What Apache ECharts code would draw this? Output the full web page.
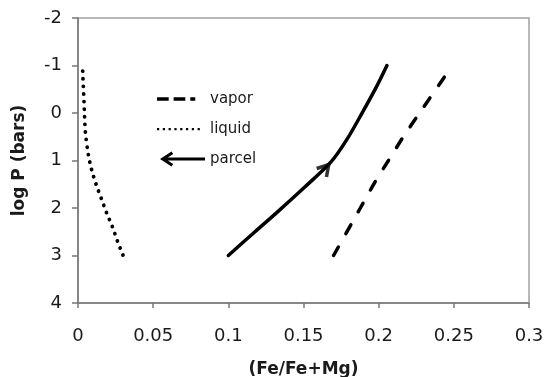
<!DOCTYPE html>
<html><head><meta charset="utf-8">
<script src="https://cdn.jsdelivr.net/npm/echarts@6/dist/echarts.min.js"></script>
<style>html,body{margin:0;padding:0;background:#fff}#c{width:547px;height:377px}</style>
</head><body><div id="c"></div>
<script>
// ---- data ----
const liquidX = [0.0031, 0.0040, 0.0049, 0.0069, 0.0091, 0.0120, 0.0155, 0.0191, 0.0228, 0.0264, 0.0300];
const liquidY = [-0.88, -0.24, 0.39, 0.88, 1.20, 1.50, 1.80, 2.11, 2.39, 2.71, 3.00];
const vaporX = [0.170, 0.1878, 0.1976, 0.2065, 0.2164, 0.2272, 0.249];
const vaporY = [3.00, 2.00, 1.45, 1.00, 0.50, 0.00, -1.00];
const parcelX = [0.100, 0.1170, 0.1335, 0.1505, 0.1683, 0.1790, 0.1895, 0.1985, 0.2055];
const parcelY = [3.00, 2.52, 2.06, 1.57, 1.03, 0.55, -0.03, -0.55, -1.00];
const arrowX = [0.1683];
const arrowY = [1.03];
const seriesNames = ['vapor', 'liquid', 'parcel'];
const xTitle = '(Fe/Fe+Mg)';
const yTitle = 'log P (bars)';
const xMin = 0, xMax = 0.3, xStep = 0.05;
const yMin = -2, yMax = 4, yStep = 1;

const pairs = (xs, ys) => xs.map((x, i) => [x, ys[i]]);
const FONT = 'DejaVu Sans';
const TXT = '#1a1a1a';
const B0 = 'M0 0h0.01v0.01h-0.01z M48 16h-0.01v-0.01h0.01z ';
const vaporIcon = 'path://' + B0 + 'M0 6.25h11.7v3.5h-11.7z M16.6 6.25h11.7v3.5h-11.7z M33.3 6.25h5v3.5h-5z';
let dots = '';
for (let i = 0; i < 8; i++) { const x = (i * 5.8).toFixed(2); dots += 'M' + x + ' 7h2.2v2.2h-2.2z '; }
const liquidIcon = 'path://' + B0 + dots;
const parcelIcon = 'path://' + B0 + 'M3 8 L14.5 0.5 L16.2 3 L10.8 6.5 L48 6.5 L48 9.5 L10.8 9.5 L16.2 13 L14.5 15.5 Z';
const chevron = 'path://M0 0h0.01v0.01h-0.01z M20 32h-0.01v-0.01h0.01z M10 16 L18 29.5 L15 31.3 L10 22.9 L5 31.3 L2 29.5 Z';

const chart = echarts.init(document.getElementById('c'), null, {renderer: 'canvas'});
chart.setOption({
  animation: false,
  backgroundColor: '#fff',
  grid: {left: 78, right: 18, top: 18, bottom: 74, show: true, borderColor: '#a0a0a0', borderWidth: 1.5,
         backgroundColor: 'transparent', containLabel: false, outerBoundsMode: 'none'},
  legend: {
    orient: 'vertical', left: 157, top: 91, padding: 0, itemWidth: 48, itemHeight: 16, itemGap: 14,
    selectedMode: false,
    textStyle: {fontFamily: FONT, fontSize: 15, color: TXT, lineHeight: 16, padding: [0, 0, 0, 0]},
    data: [
      {name: seriesNames[0], icon: vaporIcon},
      {name: seriesNames[1], icon: liquidIcon},
      {name: seriesNames[2], icon: parcelIcon}
    ]
  },
  xAxis: {
    type: 'value', min: xMin, max: xMax, interval: xStep,
    name: xTitle, nameLocation: 'middle', nameGap: 58,
    nameTextStyle: {fontFamily: FONT, fontSize: 17, fontWeight: 'bold', color: TXT},
    axisLine: {show: true, onZero: false, lineStyle: {color: '#777', width: 1.5}},
    axisTick: {show: true, length: 5, lineStyle: {color: '#777', width: 1.5}},
    axisLabel: {fontFamily: FONT, fontSize: 18, color: TXT, margin: 24},
    splitLine: {show: false}
  },
  yAxis: {
    type: 'value', min: yMin, max: yMax, interval: yStep, inverse: true,
    name: yTitle, nameLocation: 'middle', nameGap: 50, nameRotate: 90,
    nameTextStyle: {fontFamily: FONT, fontSize: 17, fontWeight: 'bold', color: TXT},
    axisLine: {show: true, onZero: false, lineStyle: {color: '#777', width: 1.5}},
    axisTick: {show: true, length: 6, lineStyle: {color: '#777', width: 1.5}},
    axisLabel: {fontFamily: FONT, fontSize: 18, color: TXT, margin: 16},
    splitLine: {show: false}
  },
  series: [
    {name: seriesNames[0], type: 'line', data: pairs(vaporX, vaporY), symbol: 'none', smooth: 0.2,
     itemStyle: {color: '#000'}, lineStyle: {color: '#000', width: 3.5, type: [10, 15], cap: 'round'}},
    {name: seriesNames[1], type: 'line', data: pairs(liquidX, liquidY), symbol: 'none', smooth: 0.3,
     itemStyle: {color: '#000'}, lineStyle: {color: '#000', width: 3.8, type: [0.1, 7.5], cap: 'round'}},
    {name: seriesNames[2], type: 'line', data: pairs(parcelX, parcelY), symbol: 'none', smooth: 0.3,
     itemStyle: {color: '#000'}, lineStyle: {color: '#000', width: 3.5, cap: 'round'}},
    {name: 'parcel-arrow', type: 'scatter', data: pairs(arrowX, arrowY), symbol: chevron,
     symbolSize: [20, 32], symbolRotate: -41, itemStyle: {color: '#000'}, silent: true}
  ]
});
</script></body></html>
